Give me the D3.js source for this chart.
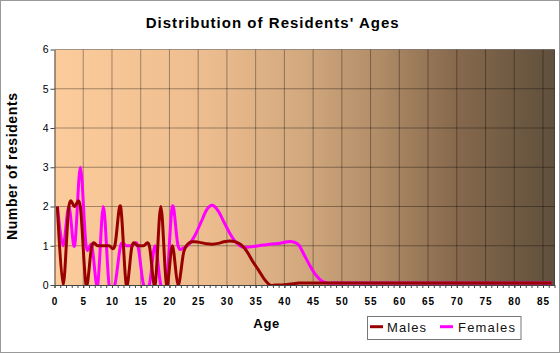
<!DOCTYPE html>
<html>
<head>
<meta charset="utf-8">
<script src="https://cdn.jsdelivr.net/npm/d3@7"></script>
<style>
  body { margin: 0; background: #fff; }
  svg { display: block; font-family: Arial, "Liberation Sans", sans-serif; }
</style>
</head>
<body>
<script>
// ages 0..86, one point per year of age
var ages = d3.range(0, 87);

var males = [2, 0, 2, 2, 2, 0, 1, 1, 1, 1,
    1, 2, 0, 1, 1, 1, 1, 0, 2, 0,
    1, 0, 0.85, 1.08, 1.1, 1.08, 1.05, 1.04, 1.06, 1.1,
    1.12, 1.1, 1.02, 0.85, 0.6, 0.38, 0.15, 0, 0, 0,
    0.01, 0.03, 0.05, 0.05, 0.05, 0.05, 0.05, 0.05, 0.05, 0.05,
    0.05, 0.05, 0.05, 0.05, 0.05, 0.05, 0.05, 0.05, 0.05, 0.05,
    0.05, 0.05, 0.05, 0.05, 0.05, 0.05, 0.05, 0.05, 0.05, 0.05,
    0.05, 0.05, 0.05, 0.05, 0.05, 0.05, 0.05, 0.05, 0.05, 0.05,
    0.05, 0.05, 0.05, 0.05, 0.05, 0.05, 0.05];

var females = [2, 1, 2, 1, 3, 1, 1, 0, 2, 0,
    0, 1, 1, 1, 1, 0, 0, 1, 0, 0,
    2, 1, 0.95, 1.05, 1.28, 1.6, 1.92, 2.03, 1.88, 1.6,
    1.32, 1.1, 0.98, 0.96, 0.98, 1.0, 1.02, 1.04, 1.05, 1.07,
    1.1, 1.1, 1.02, 0.75, 0.48, 0.25, 0.1, 0.05, 0.05, 0.05,
    0.05, 0.05, 0.05, 0.05, 0.05, 0.05, 0.05, 0.05, 0.05, 0.05,
    0.05, 0.05, 0.05, 0.05, 0.05, 0.05, 0.05, 0.05, 0.05, 0.05,
    0.05, 0.05, 0.05, 0.05, 0.05, 0.05, 0.05, 0.05, 0.05, 0.05,
    0.05, 0.05, 0.05, 0.05, 0.05, 0.05, 0.05];

var xTicks = [0, 5, 10, 15, 20, 25, 30, 35, 40, 45, 50, 55, 60, 65, 70, 75, 80, 85];
var yTicks = [0, 1, 2, 3, 4, 5, 6];

var seriesNames = ['Males', 'Females'];
var seriesColors = ['#990000', '#ff00ff'];

var W = 560, H = 353;
var plot = { left: 54.5, right: 554.5, top: 49.5, bottom: 285 };

var x = d3.scaleLinear().domain([0, 87]).range([plot.left, plot.right]);
var y = d3.scaleLinear().domain([0, 6]).range([plot.bottom, plot.top]);

var svg = d3.select('body').append('svg')
    .attr('width', W)
    .attr('height', H);

// outer frame
svg.append('rect')
    .attr('x', 0.5).attr('y', 0.5)
    .attr('width', W - 1).attr('height', H - 1)
    .attr('fill', '#fff')
    .attr('stroke', '#999');

var defs = svg.append('defs');
var grad = defs.append('linearGradient')
    .attr('id', 'bg')
    .attr('x1', '0%').attr('x2', '100%')
    .attr('y1', '0%').attr('y2', '0%');
[[0, '#fdcc9c'], [0.3, '#edbd8f'], [0.5, '#d2a87e'], [0.65, '#b08c67'], [0.8, '#87694d'], [1, '#60503c']]
    .forEach(function (s) {
        grad.append('stop').attr('offset', s[0]).attr('stop-color', s[1]);
    });

defs.append('clipPath').attr('id', 'clip')
    .append('rect')
    .attr('x', plot.left).attr('y', plot.top)
    .attr('width', plot.right - plot.left)
    .attr('height', plot.bottom - plot.top);

svg.append('rect')
    .attr('x', plot.left).attr('y', plot.top)
    .attr('width', plot.right - plot.left)
    .attr('height', plot.bottom - plot.top)
    .attr('fill', 'url(#bg)');

// grid
svg.append('g')
    .selectAll('line')
    .data(xTicks.slice(1))
    .join('line')
    .attr('x1', function (d) { return x(d); })
    .attr('x2', function (d) { return x(d); })
    .attr('y1', plot.top).attr('y2', plot.bottom)
    .attr('stroke', '#000').attr('stroke-opacity', 0.35);

svg.append('g')
    .selectAll('line')
    .data(yTicks.slice(1))
    .join('line')
    .attr('x1', plot.left).attr('x2', plot.right)
    .attr('y1', function (d) { return y(d); })
    .attr('y2', function (d) { return y(d); })
    .attr('stroke', '#000').attr('stroke-opacity', 0.35);

// right border
svg.append('line')
    .attr('x1', plot.right).attr('x2', plot.right)
    .attr('y1', plot.top).attr('y2', plot.bottom)
    .attr('stroke', '#000').attr('stroke-opacity', 0.6);

// curves, points sit in the middle of each year
var line = d3.line()
    .x(function (d) { return x(d.age + 0.5); })
    .y(function (d) { return y(d.v); })
    .curve(d3.curveCardinal.tension(0));

var series = [males, females];
var lines = svg.append('g').attr('clip-path', 'url(#clip)');
[1, 0].forEach(function (i) {
    lines.append('path')
        .datum(ages.map(function (a, k) { return { age: a, v: series[i][k] }; }))
        .attr('fill', 'none')
        .attr('stroke', seriesColors[i])
        .attr('stroke-width', 3)
        .attr('stroke-linejoin', 'round')
        .attr('d', line);
});

// axes
var yAxis = svg.append('g')
    .attr('transform', 'translate(' + plot.left + ',0)')
    .call(d3.axisLeft(y).tickValues(yTicks).tickFormat(d3.format('d'))
        .tickSize(4).tickPadding(2).tickSizeOuter(0));
yAxis.select('.domain').attr('stroke', '#444');
yAxis.selectAll('.tick line').attr('stroke', '#444');
yAxis.selectAll('text').attr('font-size', 10.5).attr('font-family', 'Arial, "Liberation Sans", sans-serif').attr('fill', '#000');

var xMinor = svg.append('g')
    .attr('transform', 'translate(0,' + plot.bottom + ')')
    .call(d3.axisBottom(x).tickValues(d3.range(0, 88)).tickSize(3).tickFormat('').tickSizeOuter(0));
xMinor.select('.domain').attr('stroke', '#444');
xMinor.selectAll('.tick line').attr('stroke', '#444');

var xAxis = svg.append('g')
    .attr('transform', 'translate(0,' + plot.bottom + ')')
    .call(d3.axisBottom(x).tickValues(xTicks).tickSize(3).tickPadding(10).tickSizeOuter(0));
xAxis.select('.domain').remove();
xAxis.selectAll('.tick line').attr('stroke', '#444');
xAxis.selectAll('text')
    .attr('font-size', 10)
    .attr('font-weight', 'bold')
    .attr('letter-spacing', 1)
    .attr('font-family', 'Arial, "Liberation Sans", sans-serif')
    .attr('fill', '#000');

// titles
svg.append('text')
    .attr('x', 145.7).attr('y', 28.3)
    .attr('font-size', 15).attr('font-weight', 'bold')
    .attr('textLength', 253).attr('lengthAdjust', 'spacing')
    .text("Distribution of Residents' Ages");

svg.append('text')
    .attr('transform', 'translate(16.5,240) rotate(-90)')
    .attr('font-size', 14).attr('font-weight', 'bold')
    .attr('textLength', 147).attr('lengthAdjust', 'spacing')
    .text('Number of residents');

svg.append('text')
    .attr('x', 253.3).attr('y', 327.5)
    .attr('font-size', 13).attr('font-weight', 'bold')
    .attr('textLength', 26).attr('lengthAdjust', 'spacing')
    .text('Age');

// legend
var legend = svg.append('g');
legend.append('rect')
    .attr('x', 367.5).attr('y', 316.5)
    .attr('width', 153.5).attr('height', 23)
    .attr('fill', 'none').attr('stroke', '#777');

var legendItems = [
    { line: 370, text: 387, len: 39 },
    { line: 440, text: 458, len: 57 }
];
legendItems.forEach(function (it, i) {
    legend.append('line')
        .attr('x1', it.line).attr('x2', it.line + 13)
        .attr('y1', 326.7).attr('y2', 326.7)
        .attr('stroke', seriesColors[i]).attr('stroke-width', 3);
    legend.append('text')
        .attr('x', it.text).attr('y', 331.7)
        .attr('font-size', 13)
        .attr('textLength', it.len).attr('lengthAdjust', 'spacing')
        .attr('fill', '#111')
        .text(seriesNames[i]);
});
</script>
</body>
</html>
